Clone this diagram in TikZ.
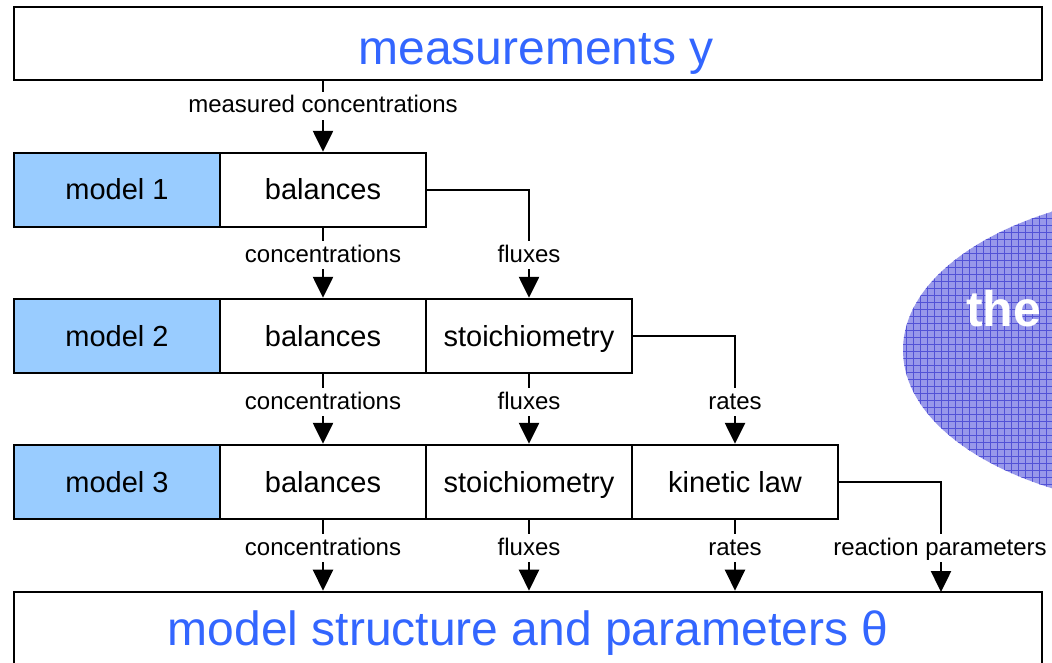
\documentclass[tikz,border=0pt]{standalone}
\usepackage{fontspec}
\setmainfont{Liberation Sans}
\usetikzlibrary{arrows.meta}
\definecolor{modelblue}{RGB}{153,204,255}
\definecolor{titleblue}{RGB}{51,102,255}
\definecolor{ellfill}{RGB}{152,152,234}
\definecolor{ellgrid}{RGB}{82,82,214}
\begin{document}
\begin{tikzpicture}[x=1pt,y=-1pt,
  box/.style={draw, line width=2.4pt, minimum width=206pt, minimum height=74pt, inner sep=0pt, text height=24pt, text depth=4pt, font=\fontsize{29}{31}\selectfont},
  modelbox/.style={box, fill=modelblue},
  bigbox/.style={draw, line width=2.6pt, minimum width=1028pt, inner sep=0pt, text=titleblue, font=\fontsize{48}{50}\selectfont},
  conn/.style={line width=2.5pt, -{Triangle[length=21pt,width=20pt]}},
  gridline/.style={ellgrid, line width=0.65pt},
  lab/.style={fill=white, inner xsep=1pt, inner ysep=3pt, text height=18pt, text depth=4pt, font=\fontsize{24}{26}\selectfont}
]
\path[use as bounding box, clip] (0,0) rectangle (1052,663);
\fill[white] (0,0) rectangle (1052,663);

% ellipse with grid pattern
\begin{scope}
  \clip (1203,350) ellipse [x radius=300, y radius=160];
  \fill[ellfill] (890,180) rectangle (1060,520);
  \foreach \yy in {183,190,...,520} \draw[gridline] (890,\yy) -- (1060,\yy);
  \foreach \xx in {892,899,...,1060} \draw[gridline] (\xx,180) -- (\xx,520);
\end{scope}
\node[anchor=base west, text=white, inner sep=0pt, font=\bfseries\fontsize{50}{52}\selectfont] (the) at (966,326) {the};

% top and bottom boxes
\node[bigbox, minimum height=73pt, text height=48pt, text depth=5pt] (top) at (528,43.5) {\hspace{16pt}measurements y};
\node[bigbox, minimum height=76pt, text height=36pt, text depth=6pt] (bot) at (528,630) {model structure and parameters θ\hspace{10pt}};

% row 1
\node[modelbox] (m1) at (117,190) {model 1};
\node[box] (b1) at (323,190) {balances};
% row 2
\node[modelbox] (m2) at (117,336) {model 2};
\node[box] (b2) at (323,336) {balances};
\node[box] (s2) at (529,336) {stoichiometry};
% row 3
\node[modelbox] (m3) at (117,482) {model 3};
\node[box] (b3) at (323,482) {balances};
\node[box] (s3) at (529,482) {stoichiometry};
\node[box] (k3) at (735,482) {kinetic law};

\coordinate (rp) at (941,592);

% connectors
\draw[conn] (b1.north |- top.south) -- (b1.north);
\draw[conn] (b1.south) -- (b2.north);
\draw[conn] (b1.east) -| (s2.north);
\draw[conn] (b2.south) -- (b3.north);
\draw[conn] (s2.south) -- (s3.north);
\draw[conn] (s2.east) -| (k3.north);
\draw[conn] (b3.south) -- (b3.south |- bot.north);
\draw[conn] (s3.south) -- (s3.south |- bot.north);
\draw[conn] (k3.south) -- (k3.south |- bot.north);
\draw[conn] (k3.east) -| (rp);

% labels
\node[lab] (l0) at (323,106) {measured concentrations};
\node[lab] (l1a) at (323,255) {concentrations};
\node[lab] (l1b) at (529,255) {fluxes};
\node[lab] (l2a) at (323,402) {concentrations};
\node[lab] (l2b) at (529,402) {fluxes};
\node[lab] (l2c) at (735,402) {rates};
\node[lab] (l3a) at (323,548) {concentrations};
\node[lab] (l3b) at (529,548) {fluxes};
\node[lab] (l3c) at (735,548) {rates};
\node[lab] (l3d) at (940,548) {reaction parameters};
\end{tikzpicture}
\end{document}
